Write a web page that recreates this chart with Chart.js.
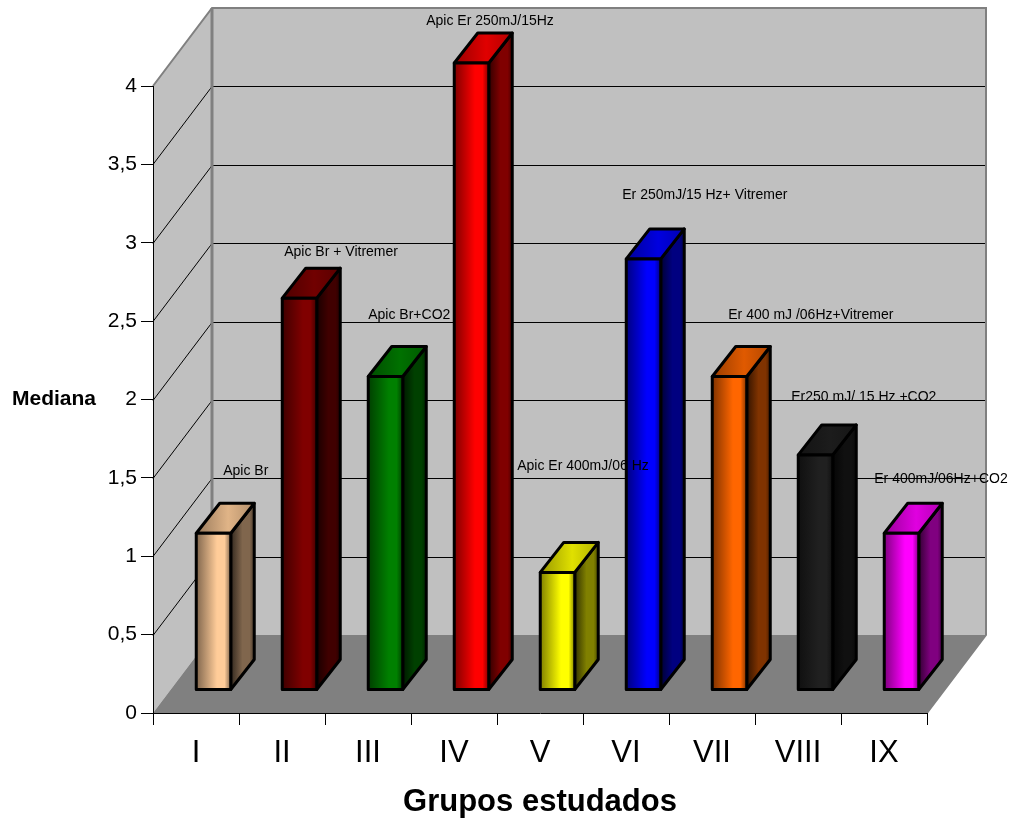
<!DOCTYPE html>
<html>
<head>
<meta charset="utf-8">
<title>Grupos estudados</title>
<script src="https://cdn.jsdelivr.net/npm/chart.js@4"></script>
<style>
  html, body { margin: 0; padding: 0; background: #fff; }
  canvas { display: block; }
</style>
</head>
<body>
<canvas id="chart" width="1010" height="819"></canvas>
<script>
// Chart values
const categories = ["I", "II", "III", "IV", "V", "VI", "VII", "VIII", "IX"];
const medianValues = [1, 2.5, 2, 4, 0.75, 2.75, 2, 1.5, 1];
const barNotes = [
  "Apic Br",
  "Apic Br + Vitremer",
  "Apic Br+CO2",
  "Apic Er 250mJ/15Hz",
  "Apic Er 400mJ/06 Hz",
  "Er 250mJ/15 Hz+ Vitremer",
  "Er 400 mJ /06Hz+Vitremer",
  "Er250 mJ/ 15 Hz +CO2",
  "Er 400mJ/06Hz+CO2",
];

// Styles
const barColors = [
  [255, 204, 153],
  [128, 0, 0],
  [0, 128, 0],
  [255, 0, 0],
  [255, 255, 0],
  [0, 0, 255],
  [255, 102, 0],
  [32, 32, 32],
  [255, 0, 255],
];
// where each note sits, relative to the top left corner of its bar
const noteOffsetX = [27, 2, 0, -28, -23, -4, 16, -7, -10];
const noteOffsetY = [-62, -46, -61, -42, -106, -64, -61, -58, -54];

// 3D look: how far the back wall and the bars are pushed
const WALL_DX = 59;
const WALL_DY = 78;
const BAR_SHIFT_X = 17.5;
const BAR_SHIFT_Y = 23;
const BAR_DX = 23.5;
const BAR_DY = 30;

function shade(rgb, f) {
  return `rgb(${Math.round(rgb[0] * f)},${Math.round(rgb[1] * f)},${Math.round(rgb[2] * f)})`;
}

function polygon(ctx, pts, fill, stroke, lineWidth) {
  ctx.beginPath();
  pts.forEach((p, i) => (i ? ctx.lineTo(p[0], p[1]) : ctx.moveTo(p[0], p[1])));
  ctx.closePath();
  if (fill) {
    ctx.fillStyle = fill;
    ctx.fill();
  }
  if (stroke) {
    ctx.strokeStyle = stroke;
    ctx.lineWidth = lineWidth;
    ctx.lineJoin = "round";
    ctx.stroke();
  }
}

function hGradient(ctx, x0, x1, rgb, stops) {
  const g = ctx.createLinearGradient(x0, 0, x1, 0);
  stops.forEach((s) => g.addColorStop(s[0], shade(rgb, s[1])));
  return g;
}

// Walls, floor and their grid lines go under the scales
const wallsPlugin = {
  id: "walls",
  beforeDraw(chart) {
    const { ctx, chartArea: a, scales } = chart;
    const l = a.left, r = a.right, t = a.top, b = a.bottom;
    ctx.save();
    polygon(ctx, [[l + WALL_DX, t - WALL_DY], [r + WALL_DX, t - WALL_DY], [r + WALL_DX, b - WALL_DY], [l + WALL_DX, b - WALL_DY]], "#c0c0c0");
    polygon(ctx, [[l, b], [l, t], [l + WALL_DX, t - WALL_DY], [l + WALL_DX, b - WALL_DY]], "#c0c0c0");
    polygon(ctx, [[l, b], [r, b], [r + WALL_DX, b - WALL_DY], [l + WALL_DX, b - WALL_DY]], "#808080");

    ctx.strokeStyle = "#000";
    ctx.lineWidth = 1;
    scales.y.ticks.forEach((tick) => {
      const y = Math.round(scales.y.getPixelForValue(tick.value)) + 0.5;
      if (tick.value === 0 || tick.value === 4) return;
      ctx.beginPath();
      ctx.moveTo(l, y);
      ctx.lineTo(l + WALL_DX, y - WALL_DY);
      ctx.lineTo(r + WALL_DX, y - WALL_DY);
      ctx.stroke();
    });

    // grey frame of the walls
    ctx.strokeStyle = "#808080";
    ctx.lineWidth = 2;
    ctx.beginPath();
    ctx.moveTo(l, t);
    ctx.lineTo(l + WALL_DX, t - WALL_DY);
    ctx.lineTo(r + WALL_DX, t - WALL_DY);
    ctx.lineTo(r + WALL_DX, b - WALL_DY);
    ctx.lineTo(r, b);
    ctx.stroke();
    ctx.lineWidth = 3;
    ctx.beginPath();
    ctx.moveTo(l + WALL_DX, t - WALL_DY);
    ctx.lineTo(l + WALL_DX, b - WALL_DY);
    ctx.stroke();

    // y axis title stays horizontal
    ctx.fillStyle = "#000";
    ctx.font = "bold 21px 'Liberation Sans'";
    ctx.textAlign = "left";
    ctx.textBaseline = "middle";
    ctx.fillText("Mediana", 12, 399);
    ctx.restore();
  },
  // side and top faces, then the library's bars get pushed back onto the floor
  beforeDatasetDraw(chart) {
    const ctx = chart.ctx;
    ctx.save();
    ctx.translate(BAR_SHIFT_X, -BAR_SHIFT_Y);
    chart.getDatasetMeta(0).data.forEach((bar, i) => {
      const rgb = barColors[i];
      const x0 = bar.x - bar.width / 2;
      const x1 = bar.x + bar.width / 2;
      polygon(ctx, [[x1, bar.y], [x1 + BAR_DX, bar.y - BAR_DY], [x1 + BAR_DX, bar.base - BAR_DY], [x1, bar.base]],
        hGradient(ctx, x1, x1 + BAR_DX, rgb, [[0, 0.2], [0.5, 0.5], [0.8, 0.5], [1, 0.3]]), "#000", 3);
      polygon(ctx, [[x0, bar.y], [x0 + BAR_DX, bar.y - BAR_DY], [x1 + BAR_DX, bar.y - BAR_DY], [x1, bar.y]],
        hGradient(ctx, x0, x1 + BAR_DX, rgb, [[0, 0.6], [0.55, 0.88], [1, 0.7]]), "#000", 3);
    });
  },
  afterDatasetDraw(chart) {
    const ctx = chart.ctx;
    const bars = chart.getDatasetMeta(0).data;
    bars.forEach((bar) => {
      polygon(ctx, [
        [bar.x - bar.width / 2, bar.y],
        [bar.x + bar.width / 2, bar.y],
        [bar.x + bar.width / 2, bar.base],
        [bar.x - bar.width / 2, bar.base],
      ], null, "#000", 3);
    });
    ctx.restore();

    ctx.save();
    ctx.fillStyle = "#000";
    ctx.font = "14px 'Liberation Sans'";
    ctx.textAlign = "left";
    ctx.textBaseline = "middle";
    bars.forEach((bar, i) => {
      const x = bar.x - bar.width / 2 + BAR_SHIFT_X + noteOffsetX[i];
      const y = bar.y - BAR_SHIFT_Y + noteOffsetY[i];
      ctx.fillText(barNotes[i], x, y);
    });
    ctx.restore();
  },
};

new Chart(document.getElementById("chart"), {
  type: "bar",
  data: {
    labels: categories,
    datasets: [
      {
        data: medianValues,
        clip: false,
        barPercentage: 34.5 / 86,
        categoryPercentage: 1,
        borderWidth: 0,
        backgroundColor(c) {
          const chart = c.chart;
          const rgb = barColors[c.dataIndex];
          if (!chart.chartArea || c.dataIndex === undefined) return "#888";
          // the canvas is already translated when this fills, so no bar shift here
          const mid = chart.scales.x.getPixelForTick(c.dataIndex);
          return hGradient(chart.ctx, mid - 17.25, mid + 17.25, rgb, [[0, 0.5], [0.6, 1], [0.82, 1], [1, 0.5]]);
        },
      },
    ],
  },
  options: {
    responsive: false,
    animation: false,
    layout: { padding: { top: 86, right: 83, left: 0, bottom: 0 } },
    plugins: {
      legend: { display: false },
      tooltip: { enabled: false },
      title: { display: false },
    },
    scales: {
      x: {
        afterFit(scale) {
          scale.height = 106;
        },
        grid: { drawOnChartArea: false, color: "#000", tickLength: 12, lineWidth: 1 },
        border: { color: "#000", width: 1 },
        ticks: {
          color: "#000",
          maxRotation: 0,
          padding: 10,
          font: { family: "'Liberation Sans'", size: 31 },
        },
        title: {
          display: true,
          text: "Grupos estudados",
          color: "#000",
          padding: { top: 0, bottom: -2 },
          font: { family: "'Liberation Sans'", size: 31, weight: "bold" },
        },
      },
      y: {
        min: 0,
        max: 4,
        afterFit(scale) {
          scale.width = 153;
        },
        grid: { drawOnChartArea: false, color: "#000", tickLength: 12, lineWidth: 1 },
        border: { color: "#000", width: 1 },
        ticks: {
          stepSize: 0.5,
          color: "#000",
          padding: 4,
          font: { family: "'Liberation Sans'", size: 21 },
          callback: (v) => String(v).replace(".", ","),
        },
      },
    },
  },
  plugins: [wallsPlugin],
});
</script>
</body>
</html>
